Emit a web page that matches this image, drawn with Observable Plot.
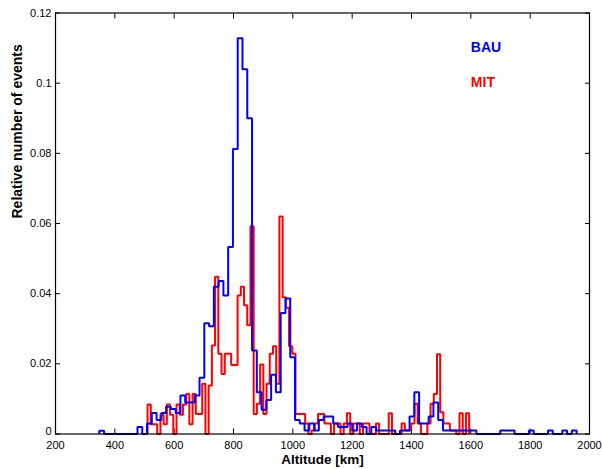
<!DOCTYPE html>
<html>
<head>
<meta charset="utf-8">
<script src="https://cdn.jsdelivr.net/npm/d3@7"></script>
<script src="https://cdn.jsdelivr.net/npm/@observablehq/plot@0.6"></script>
<style>
  html, body { margin: 0; padding: 0; background: #fff; }
</style>
</head>
<body>
<div id="chart"></div>
<script>
// ---- data (histograms: 100 bins each, relative number of events) ----
const seriesNames = ["BAU", "MIT"];
const bauStart = 347.6;   // km, left edge of first bin
const bauWidth = 16.09;   // km per bin
const bauValues = [
  0.0009, 0, 0, 0, 0, 0, 0, 0, 0.002, 0,
  0.003, 0.006, 0.004, 0.006, 0.0078, 0.0071, 0.006, 0.011, 0.009, 0.009,
  0.011, 0.016, 0.0316, 0.0307, 0.042, 0.0436, 0.0395, 0.0533, 0.0812, 0.1128,
  0.104, 0.090, 0.0238, 0.0119, 0.0069, 0.0097, 0.0169, 0.0119, 0.0345, 0.0386,
  0.0219, 0.004, 0.003, 0.001, 0.003, 0.001, 0.004, 0.005, 0.005, 0.003,
  0.002, 0.002, 0.003, 0.001, 0.003, 0.002, 0, 0.002, 0.001, 0.001,
  0.001, 0.001, 0, 0.001, 0.001, 0.005, 0.0119, 0.003, 0.003, 0.005,
  0.009, 0.004, 0.001, 0.001, 0.001, 0.001, 0.001, 0.001, 0.001, 0,
  0, 0, 0, 0, 0.001, 0.001, 0.001, 0, 0, 0,
  0.001, 0, 0, 0, 0.001, 0, 0, 0.001, 0, 0.001
];
const mitStart = 510.3;   // km
const mitWidth = 10.84;   // km per bin
const mitValues = [
  0.0084, 0.0028, 0.0028, 0, 0.0055, 0.0028, 0.0084, 0.0055, 0, 0.0084,
  0.0055, 0.0084, 0.0114, 0.0028, 0.0114, 0.0057, 0.0057, 0.0143, 0, 0.0138,
  0.0252, 0.0448, 0.0229, 0.0171, 0.0229, 0.0229, 0.0197, 0.0197, 0.0395, 0.042,
  0.0367, 0.031, 0.0592, 0.0057, 0.0086, 0.0198, 0.0057, 0.0143, 0.0229, 0.025,
  0.0143, 0.062, 0.039, 0.036, 0.025, 0.0229, 0.0057, 0.0057, 0.0057, 0.003,
  0, 0.001, 0.003, 0.0057, 0.0057, 0.003, 0.003, 0, 0.003, 0.003,
  0, 0.003, 0.0059, 0, 0.003, 0.003, 0, 0.003, 0.003, 0,
  0, 0.003, 0, 0, 0, 0.0059, 0, 0, 0, 0.003,
  0.001, 0.001, 0.003, 0.0086, 0.003, 0, 0, 0.003, 0.0086, 0.0114,
  0.0227, 0.0062, 0.003, 0.003, 0.001, 0.001, 0, 0.0059, 0, 0.0059
];
const xTicks = [200, 400, 600, 800, 1000, 1200, 1400, 1600, 1800, 2000];
const yTicks = [0, 0.02, 0.04, 0.06, 0.08, 0.1, 0.12];
const xTitle = "Altitude [km]";
const yTitle = "Relative number of events";
const colors = { BAU: "#0000ff", MIT: "#ff0000" };

// ---- build step outlines from the bins ----
function stepOutline(start, width, values, name) {
  const pts = [{ km: start, v: 0, s: name }];
  values.forEach((v, i) => {
    pts.push({ km: start + i * width, v, s: name });
    pts.push({ km: start + (i + 1) * width, v, s: name });
  });
  pts.push({ km: start + values.length * width, v: 0, s: name });
  return pts;
}
const bauLine = stepOutline(bauStart, bauWidth, bauValues, seriesNames[0]);
const mitLine = stepOutline(mitStart, mitWidth, mitValues, seriesNames[1]);

const fmtY = d => String(+d.toFixed(2));
const font = "'Liberation Sans', Arial, Helvetica, sans-serif";
const noText = () => "";

const chart = Plot.plot({
  width: 602,
  height: 469,
  marginLeft: 55,
  marginRight: 13,
  marginTop: 12.5,
  marginBottom: 35.5,
  style: { fontFamily: font, fontSize: "11px", background: "#fff", color: "#000" },
  x: { domain: [200, 2000] },
  y: { domain: [0, 0.12] },
  marks: [
    // tick labels
    Plot.axisX({ ticks: xTicks, tickSize: 0, tickPadding: 7, tickFormat: d => String(d), label: null, fontSize: 11 }),
    Plot.axisY({ ticks: yTicks.filter(t => t > 0), tickSize: 0, tickPadding: 4, tickFormat: fmtY, label: null, fontSize: 11 }),
    Plot.axisY({ ticks: yTicks.filter(t => t === 0), tickSize: 0, tickPadding: 4, dy: -2.5, tickFormat: fmtY, label: null, fontSize: 11 }),
    // inward ticks on all four sides
    Plot.axisX({ anchor: "bottom", ticks: xTicks, tickSize: 5, dy: -5, tickFormat: noText, label: null }),
    Plot.axisX({ anchor: "top", ticks: xTicks, tickSize: 5, dy: 5, tickFormat: noText, label: null }),
    Plot.axisY({ anchor: "left", ticks: yTicks, tickSize: 5, dx: 5, tickFormat: noText, label: null }),
    Plot.axisY({ anchor: "right", ticks: yTicks, tickSize: 5, dx: -5, tickFormat: noText, label: null }),
    // histogram outlines
    Plot.line(mitLine, { x: "km", y: "v", stroke: colors.MIT, strokeWidth: 2, strokeLinejoin: "miter", strokeLinecap: "butt" }),
    Plot.line(bauLine, { x: "km", y: "v", stroke: colors.BAU, strokeWidth: 2, strokeLinejoin: "miter", strokeLinecap: "butt" }),
    Plot.frame({ stroke: "#000", strokeWidth: 1.2 }),
    // legend labels
    Plot.text([seriesNames[0]], { x: 1600, y: 0.1102, text: d => d, fill: colors.BAU, fontWeight: "bold", fontSize: 14, textAnchor: "start" }),
    Plot.text([seriesNames[1]], { x: 1600, y: 0.1002, text: d => d, fill: colors.MIT, fontWeight: "bold", fontSize: 14, textAnchor: "start" }),
    // axis titles
    Plot.text([xTitle], { frameAnchor: "bottom", dy: 30, text: d => d, fontWeight: "bold", fontSize: 13.5, fill: "#000" }),
    Plot.text([yTitle], { frameAnchor: "left", dx: -38, dy: -5, rotate: -90, text: d => d, fontWeight: "bold", fontSize: 14, fill: "#000" })
  ]
});
document.getElementById("chart").appendChild(chart);
</script>
</body>
</html>
